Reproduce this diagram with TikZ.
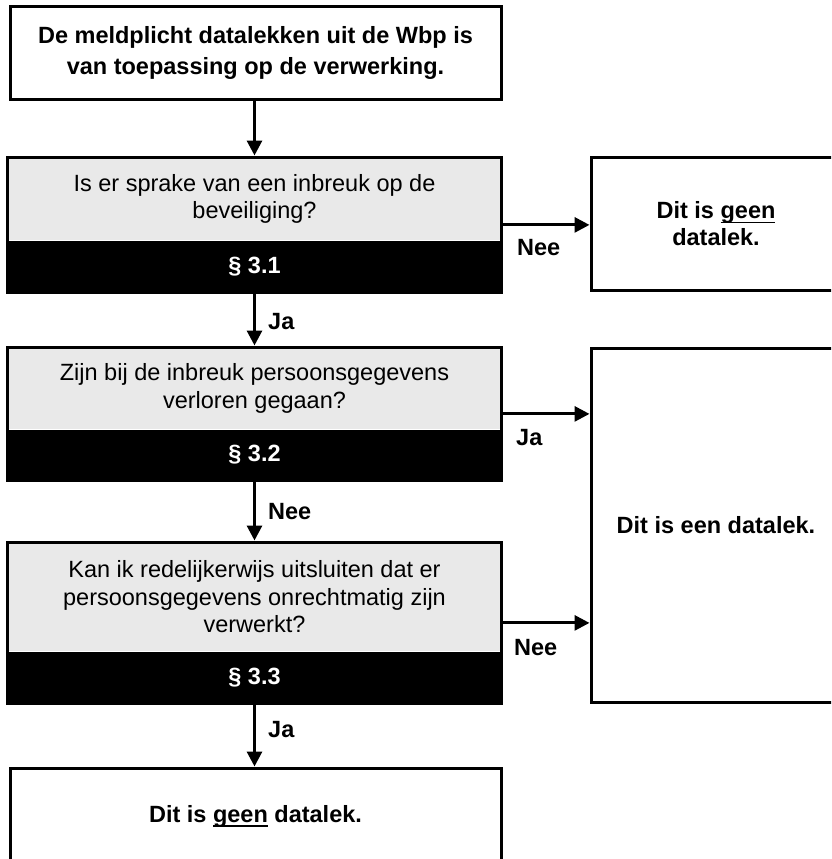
\documentclass[tikz,border=0pt]{standalone}
\usepackage{fontspec}
\setmainfont{Liberation Sans}
\newcommand\myul[1]{\leavevmode\setbox0\hbox{#1}\rlap{\rule[-5pt]{\wd0}{1.8pt}}\box0\relax}
\usetikzlibrary{arrows.meta,fit}
\definecolor{qgray}{RGB}{233,233,233}
\tikzset{
  box/.style={draw=black, line width=3pt, fill=white, inner sep=0pt, align=center,
              font=\bfseries\fontsize{23.5}{31}\selectfont},
  qpart/.style={inner sep=0pt, minimum width=493pt, align=center, anchor=north},
  qtext/.style={qpart, fill=qgray, font=\fontsize{23.5}{27.5}\selectfont},
  qbar/.style={qpart, fill=black, text=white, minimum height=52pt,
               font=\bfseries\fontsize{23.5}{27.5}\selectfont},
  qframe/.style={draw=black, line width=3pt, inner sep=0pt},
  arr/.style={line width=3pt, -{Triangle[length=15pt,width=15pt]}},
  lbl/.style={font=\bfseries\fontsize{23.5}{27.5}\selectfont, inner sep=0pt},
  rbox/.style={draw=black, line width=3pt, fill=white, inner sep=0pt, align=center,
              font=\bfseries\fontsize{23.5}{27}\selectfont}
}
\begin{document}
\begin{tikzpicture}[x=1pt,y=-1pt]
\useasboundingbox (0,0) rectangle (831,859);
\fill[white] (0,0) rectangle (831,859);
\clip (0,0) rectangle (831,859);

% start box
\node[box, minimum width=491pt, minimum height=92pt] (start) at (255.5,53)
  {De meldplicht datalekken uit de Wbp is\\van toepassing op de verwerking.};

% question 1
\node[qtext, minimum height=83pt] (q1a) at (254.5,157)
  {Is er sprake van een inbreuk op de\\beveiliging?};
\node[qbar] (q1b) at (q1a.south) {\S\ 3.1};
\node[qframe, fit=(q1a)(q1b)] (q1) {};

% question 2
\node[qtext, minimum height=82pt] (q2a) at (254.5,347)
  {Zijn bij de inbreuk persoonsgegevens\\verloren gegaan?};
\node[qbar, minimum height=51pt] (q2b) at (q2a.south) {\S\ 3.2};
\node[qframe, fit=(q2a)(q2b)] (q2) {};

% question 3
\node[qtext, minimum height=109pt] (q3a) at (254.5,542)
  {Kan ik redelijkerwijs uitsluiten dat er\\persoonsgegevens onrechtmatig zijn\\verwerkt?};
\node[qbar] (q3b) at (q3a.south) {\S\ 3.3};
\node[qframe, fit=(q3a)(q3b)] (q3) {};

% end box
\node[box, minimum width=491pt, minimum height=96pt] (endb) at (255.5,816)
  {Dit is \myul{geen} datalek.};

% right boxes
\node[rbox, minimum width=250pt, minimum height=133pt] (r1) at (716,223.5)
  {Dit is \myul{geen}\\datalek.};
\node[rbox, minimum width=250pt, minimum height=354pt] (r2) at (716,525)
  {Dit is een datalek.};

% vertical connectors
\draw[arr] (start.south -| q1.north) -- (q1.north);
\draw[arr] (q1.south) -- (q2.north);
\draw[arr] (q2.south) -- (q3.north);
\draw[arr] (q3.south) -- (q3.south |- endb.north);

% horizontal connectors
\draw[arr] (q1.east) -- (q1.east -| r1.west);
\draw[arr] (q2.east) -- (q2.east -| r2.west);
\draw[arr] (q3.east) -- (q3.east -| r2.west);

% labels
\node[lbl, anchor=west] (l1) at (268,322) {Ja};
\node[lbl, anchor=west] (l2) at (268,512) {Nee};
\node[lbl, anchor=west] (l3) at (268,730) {Ja};
\node[lbl, anchor=west] (l4) at (517,248) {Nee};
\node[lbl, anchor=west] (l5) at (516,438) {Ja};
\node[lbl, anchor=west] (l6) at (514,648) {Nee};
\end{tikzpicture}
\end{document}
